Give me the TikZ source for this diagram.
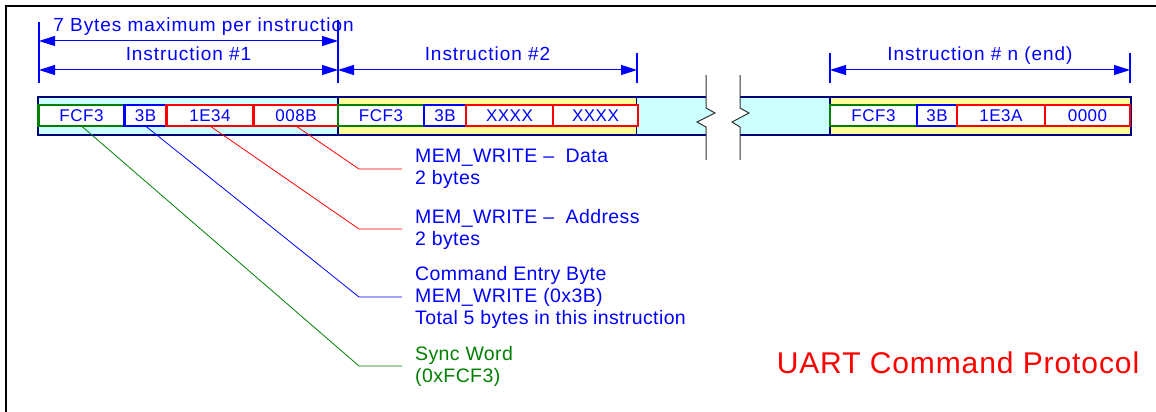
\documentclass[tikz,border=0pt]{standalone}
\usepackage{fontspec}
\setmainfont{Liberation Sans}
\usetikzlibrary{arrows.meta,positioning}
\definecolor{navyc}{RGB}{0,0,128}
\definecolor{cyanf}{RGB}{204,255,255}
\definecolor{yelf}{RGB}{255,255,153}
\definecolor{grnc}{RGB}{0,128,0}
\definecolor{bluc}{RGB}{0,0,255}
\definecolor{redc}{RGB}{255,0,0}

\begin{document}
\begin{tikzpicture}[
    x=1pt, y=-1pt,
    font=\fontsize{19.5}{22}\selectfont\addfontfeature{LetterSpace=2},
    >={Triangle[length=16pt,width=10pt]},
    seg/.style={draw=navyc, line width=2.5pt},
    fld/.style={draw, fill=white, line width=2.5pt, outer sep=0pt, inner sep=0pt,
                minimum height=21pt, text=bluc,
                font=\fontsize{17}{18}\selectfont\addfontfeature{LetterSpace=3}},
    tick/.style={bluc, line width=1.5pt},
    dim/.style={<->, bluc, line width=1pt},
    dimlab/.style={text=bluc, anchor=base, inner sep=0pt, yshift=9pt,
                   font=\fontsize{19}{22}\selectfont\addfontfeature{LetterSpace=5}},
    note/.style={anchor=west, align=left, inner xsep=13pt, inner ysep=0pt},
    lead/.style={line width=0.8pt},
    brk/.style={black!80, line width=1pt},
  ]
  \useasboundingbox (0,0) rectangle (1156,412);

  %% ---- frame ---------------------------------------------------------
  \draw[line width=2pt] (6,412) -- (6,6) -- (1156,6);

  %% ---- instruction bar -----------------------------------------------
  \draw[seg, fill=cyanf] (38,97) rectangle (338,135);
  \draw[seg, fill=yelf]  (338,97) rectangle (637,135);
  \fill[cyanf] (637,97) -- (706,97) -- (706,108) -- (715,113) -- (697,122)
               -- (706,127) -- (706,135) -- (637,135) -- cycle;
  \fill[cyanf] (740,97) -- (830,97) -- (830,135) -- (740,135) -- (740,127)
               -- (732,122) -- (749,113) -- (740,108) -- cycle;
  \draw[seg] (637,97) -- (706,97)  (637,135) -- (706,135);
  \draw[seg] (740,97) -- (830,97)  (740,135) -- (830,135);
  \draw[seg, fill=yelf]  (830,97) rectangle (1131,135);

  %% break marks
  \draw[brk] (706,75) -- (706,108) -- (715,113) -- (697,122) -- (706,127) -- (706,160);
  \draw[brk] (740,75) -- (740,108) -- (749,113) -- (732,122) -- (740,127) -- (740,160);

  %% ---- fields --------------------------------------------------------
  \node[fld, draw=grnc, minimum width=86pt, anchor=west] (S1) at (38.5,115.5) {FCF3};
  \node[fld, draw=bluc, minimum width=42pt, right=0pt of S1] (C1) {3B};
  \node[fld, draw=redc, minimum width=87pt, right=0pt of C1] (A1) {1E34};
  \node[fld, draw=redc, minimum width=85pt, right=0pt of A1] (D1) {008B};

  \node[fld, draw=grnc, minimum width=86pt, anchor=west] (S2) at (338,115.5) {FCF3};
  \node[fld, draw=bluc, minimum width=42pt, right=0pt of S2] (C2) {3B};
  \node[fld, draw=redc, minimum width=87pt, right=0pt of C2] (A2) {XXXX};
  \node[fld, draw=redc, minimum width=85pt, right=0pt of A2] (D2) {XXXX};

  \node[fld, draw=grnc, minimum width=87pt, anchor=west] (S3) at (830,115.5) {FCF3};
  \node[fld, draw=bluc, minimum width=40pt, right=0pt of S3] (C3) {3B};
  \node[fld, draw=redc, minimum width=88pt, right=0pt of C3] (A3) {1E3A};
  \node[fld, draw=redc, minimum width=85pt, right=0pt of A3] (D3) {0000};

  %% ---- dimension lines -----------------------------------------------
  \coordinate (t0) at (39,83);
  \coordinate (t1) at (338,83);
  \coordinate (t2) at (637,83);
  \coordinate (t3) at (830,83);
  \coordinate (t4) at (1130,83);
  \draw[tick] (t0) -- (39,22);
  \draw[tick] (t1) -- (338,20);
  \draw[tick] (t2) -- (637,53);
  \draw[tick] (t3) -- (830,53);
  \draw[tick] (t4) -- (1130,53);

  \draw[dim] (t0 |- 0,41) -- node[dimlab, xshift=15pt] (max) {7 Bytes maximum per instruction} (t1 |- 0,41);
  \draw[dim] (t0 |- 0,70) -- node[dimlab] (in1) {Instruction \#1} (t1 |- 0,70);
  \draw[dim] (t1 |- 0,70) -- node[dimlab] (in2) {Instruction \#2} (t2 |- 0,70);
  \draw[dim] (t3 |- 0,70) -- node[dimlab] (inn) {Instruction \# n (end)} (t4 |- 0,70);

  %% ---- field notes ---------------------------------------------------
  \node[note, text=bluc] (nd) at (402,169) {MEM\_WRITE –\ \ Data\\2 bytes};
  \node[note, text=bluc] (na) at (402,229) {MEM\_WRITE –\ \ Address\\2 bytes};
  \node[note, text=bluc] (nc) at (402,297)
    {Command Entry Byte\\MEM\_WRITE (0x3B)\\Total 5 bytes in this instruction};
  \node[note, text=grnc] (ns) at (402,366) {Sync Word\\(0xFCF3)};

  \draw[lead, redc] (D1.south) -- (nd.west -| 359,0) -- (nd.west);
  \draw[lead, redc] (A1.south) -- (na.west -| 359,0) -- (na.west);
  \draw[lead, bluc] (C1.south) -- (nc.west -| 359,0) -- (nc.west);
  \draw[lead, grnc] (S1.south) -- (ns.west -| 359,0) -- (ns.west);

  %% ---- title ---------------------------------------------------------
  \node[text=redc, font=\fontsize{30}{36}\selectfont\addfontfeature{LetterSpace=3}]
    (ttl) at (958,363) {UART Command Protocol};

\end{tikzpicture}
\end{document}
